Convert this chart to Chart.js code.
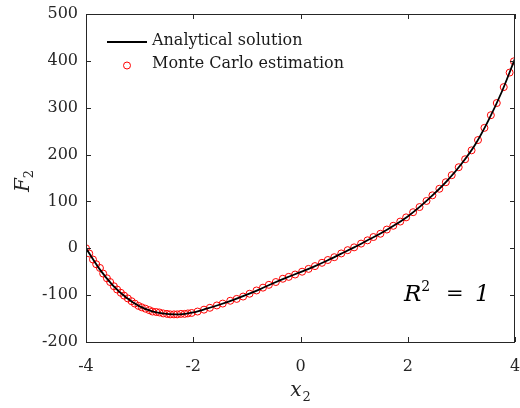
<!DOCTYPE html>
<html>
<head>
<meta charset="utf-8">
<script src="https://cdn.jsdelivr.net/npm/chart.js@4/dist/chart.umd.min.js"></script>
<style>
  html, body { margin: 0; padding: 0; background: #ffffff; }
  #wrap { width: 520px; height: 408px; }
</style>
</head>
<body>
<div id="wrap"><canvas id="c" width="520" height="408"></canvas></div>
<script>
// Analytical solution F2(x2), sampled every 0.25
const xLine = [-4, -3.75, -3.5, -3.25, -3, -2.75, -2.5, -2.25, -2, -1.75, -1.5, -1.25, -1, -0.75, -0.5, -0.25,
  0, 0.25, 0.5, 0.75, 1, 1.25, 1.5, 1.75, 2, 2.25, 2.5, 2.75, 3, 3.25, 3.5, 3.75, 4];
const fLine = [0, -44, -79, -105, -124, -135, -140, -141, -137, -129, -120, -110, -99, -87, -74, -62,
  -51, -39, -26, -12, 2, 17, 32, 49, 68, 91, 117, 146, 180, 220, 272, 333, 405];

// Monte Carlo estimates of F2 at the sampled x2 values
const xMC = [-4.00, -3.94, -3.87, -3.81, -3.74, -3.68, -3.61, -3.55, -3.48, -3.42, -3.35, -3.29, -3.22,
  -3.15, -3.09, -3.02, -2.96, -2.89, -2.82, -2.76, -2.69, -2.63, -2.56, -2.49, -2.43, -2.36, -2.30,
  -2.23, -2.16, -2.10, -2.03, -1.92, -1.80, -1.69, -1.56, -1.45, -1.31, -1.19, -1.07, -0.95, -0.82,
  -0.70, -0.59, -0.46, -0.33, -0.22, -0.10, 0.03, 0.15, 0.27, 0.40, 0.51, 0.63, 0.76, 0.88, 1.00,
  1.13, 1.25, 1.36, 1.49, 1.61, 1.73, 1.86, 1.97, 2.10, 2.22, 2.35, 2.46, 2.59, 2.71, 2.82, 2.95,
  3.07, 3.19, 3.31, 3.43, 3.55, 3.66, 3.79, 3.90, 3.98];
const fMC = [0, -11, -24, -34, -42, -54, -64, -72, -81, -88, -95, -101, -107,
  -113, -118, -123, -126, -129, -132, -135, -136, -137, -139, -140, -141, -141, -141,
  -140, -140, -139, -138, -135, -131, -127, -122, -118, -112, -108, -103, -97, -90,
  -84, -78, -72, -65, -61, -56, -50, -44, -38, -31, -25, -19, -11, -4, 2,
  10, 17, 24, 31, 40, 48, 57, 66, 77, 88, 101, 113, 127, 141, 156, 173,
  190, 209, 231, 257, 284, 310, 344, 375, 399];

// Axis tick values
const xTicks = [-4, -2, 0, 2, 4];
const yTicks = [-200, -100, 0, 100, 200, 300, 400, 500];

const seriesNames = ['Analytical solution', 'Monte Carlo estimation'];

const SERIF = '"DejaVu Serif", "Liberation Serif", serif';
const AXIS_COLOR = '#262626';

const frame = {
  id: 'frame',
  afterDraw(chart) {
    const { ctx, chartArea: a, scales } = chart;
    const xs = scales.x, ys = scales.y;
    ctx.save();
    // box
    ctx.strokeStyle = AXIS_COLOR;
    ctx.lineWidth = 1;
    ctx.strokeRect(a.left + 0.5, a.top + 0.5, a.right - a.left - 1, a.bottom - a.top);
    // inward ticks on all four sides
    const tl = 5;
    ctx.beginPath();
    yTicks.forEach(v => {
      const py = Math.round(ys.getPixelForValue(v)) + 0.5;
      ctx.moveTo(a.left, py); ctx.lineTo(a.left + tl, py);
      ctx.moveTo(a.right, py); ctx.lineTo(a.right - tl, py);
    });
    xTicks.forEach(v => {
      const px = Math.round(xs.getPixelForValue(v)) + 0.5;
      ctx.moveTo(px, a.bottom); ctx.lineTo(px, a.bottom - tl);
      ctx.moveTo(px, a.top); ctx.lineTo(px, a.top + tl);
    });
    ctx.stroke();

    // axis titles
    ctx.fillStyle = AXIS_COLOR;
    ctx.textBaseline = 'alphabetic';
    ctx.textAlign = 'left';
    ctx.font = 'italic 20px ' + SERIF;
    const wx = ctx.measureText('x').width;
    ctx.font = '13px ' + SERIF;
    const w2 = ctx.measureText('2').width;
    let sx = (a.left + a.right) / 2 - (wx + w2 + 1) / 2;
    ctx.font = 'italic 20px ' + SERIF;
    ctx.fillText('x', sx, 396);
    ctx.font = '13px ' + SERIF;
    ctx.fillText('2', sx + wx + 1, 401);

    ctx.save();
    ctx.translate(29, 181);
    ctx.rotate(-Math.PI / 2);
    ctx.font = 'italic 20px ' + SERIF;
    const wF = ctx.measureText('F').width;
    const tot = wF + w2;
    ctx.fillText('F', -tot / 2, 0);
    ctx.font = '13px ' + SERIF;
    ctx.fillText('2', -tot / 2 + wF, 4);
    ctx.restore();

    // legend
    ctx.strokeStyle = '#000000';
    ctx.lineWidth = 2;
    ctx.beginPath();
    ctx.moveTo(107, 42); ctx.lineTo(147, 42);
    ctx.stroke();
    ctx.strokeStyle = '#ff0000';
    ctx.lineWidth = 1;
    ctx.beginPath();
    ctx.arc(127, 65.5, 3.5, 0, Math.PI * 2);
    ctx.stroke();
    ctx.fillStyle = '#1a1a1a';
    ctx.font = '16px ' + SERIF;
    ctx.textBaseline = 'middle';
    ctx.fillText(seriesNames[0], 152, 41);
    ctx.fillText(seriesNames[1], 152, 64);

    // goodness of fit annotation
    ctx.textBaseline = 'alphabetic';
    ctx.fillStyle = '#000000';
    ctx.font = 'italic 23px ' + SERIF;
    ctx.fillText('R', 404, 301);
    const wR = ctx.measureText('R').width;
    ctx.font = '14px ' + SERIF;
    ctx.fillText('2', 404 + wR, 291);
    ctx.font = '21px ' + SERIF;
    ctx.fillText('=', 446, 300);
    ctx.font = 'italic 23px ' + SERIF;
    ctx.fillText('1', 475, 301);
    ctx.restore();
  }
};

new Chart(document.getElementById('c'), {
  type: 'scatter',
  data: {
    datasets: [
      {
        label: seriesNames[0],
        data: xLine.map((x, i) => ({ x, y: fLine[i] })),
        showLine: true,
        borderColor: '#000000',
        borderWidth: 1.8,
        pointRadius: 0,
        cubicInterpolationMode: 'monotone',
        order: 0
      },
      {
        label: seriesNames[1],
        data: xMC.map((x, i) => ({ x, y: fMC[i] })),
        showLine: false,
        pointStyle: 'circle',
        pointRadius: 3.5,
        borderColor: '#ff0000',
        borderWidth: 1,
        backgroundColor: 'rgba(0,0,0,0)',
        order: 1
      }
    ]
  },
  options: {
    responsive: false,
    animation: false,
    devicePixelRatio: 1,
    layout: { padding: { left: 0, right: 5, top: 14, bottom: 0 } },
    plugins: { legend: { display: false }, tooltip: { enabled: false } },
    scales: {
      x: {
        type: 'linear', min: -4, max: 4,
        afterBuildTicks: s => { s.ticks = xTicks.map(v => ({ value: v })); },
        afterFit: s => { s.height = 66; s.paddingLeft = 0; s.paddingRight = 0; },
        grid: { display: false, drawTicks: false },
        border: { display: false },
        ticks: { padding: 15, color: AXIS_COLOR, font: { family: SERIF, size: 16 }, maxRotation: 0 }
      },
      y: {
        type: 'linear', min: -200, max: 500,
        afterBuildTicks: s => { s.ticks = yTicks.map(v => ({ value: v })); },
        afterFit: s => { s.width = 86; s.paddingTop = 0; s.paddingBottom = 0; },
        grid: { display: false, drawTicks: false },
        border: { display: false },
        ticks: { padding: 8, color: AXIS_COLOR, font: { family: SERIF, size: 16 } }
      }
    }
  },
  plugins: [frame]
});
</script>
</body>
</html>
